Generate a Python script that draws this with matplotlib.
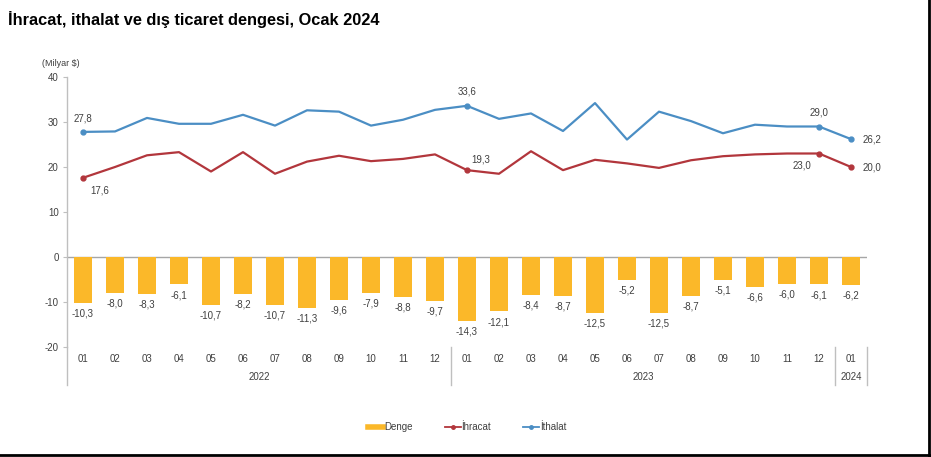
import matplotlib
matplotlib.use("Agg")
import matplotlib.pyplot as plt
from matplotlib.lines import Line2D
import numpy as np

plt.rcParams['font.family'] = ['Liberation Sans', 'DejaVu Sans']
plt.rcParams['axes.unicode_minus'] = False

# data (Milyar $)
months = ['01', '02', '03', '04', '05', '06', '07', '08', '09', '10', '11', '12'] * 2 + ['01']
years = ['2022', '2023', '2024']
denge = [-10.3, -8.0, -8.3, -6.1, -10.7, -8.2, -10.7, -11.3, -9.6, -7.9, -8.8, -9.7,
         -14.3, -12.1, -8.4, -8.7, -12.5, -5.2, -12.5, -8.7, -5.1, -6.6, -6.0, -6.1,
         -6.2]
ihracat = [17.6, 20.0, 22.6, 23.3, 19.0, 23.3, 18.5, 21.2, 22.5, 21.3, 21.8, 22.8,
           19.3, 18.5, 23.5, 19.3, 21.6, 20.8, 19.8, 21.5, 22.4, 22.8, 23.0, 23.0,
           20.0]
ithalat = [27.8, 27.9, 30.9, 29.6, 29.6, 31.6, 29.2, 32.6, 32.3, 29.2, 30.5, 32.7,
           33.6, 30.7, 31.9, 28.0, 34.2, 26.1, 32.3, 30.2, 27.5, 29.4, 29.0, 29.0,
           26.2]
labeled = [0, 12, 23, 24]

c_bar = '#fbb829'
c_exp = '#b2363c'
c_imp = '#4b8ec4'
c_txt = '#404040'

fig = plt.figure(figsize=(9.31, 4.57), dpi=100)
ax = fig.add_axes([67 / 931, 1 - 347 / 457, 800 / 931, 270 / 457])

x = np.arange(len(denge))
ax.bar(x, denge, width=0.57, color=c_bar, zorder=2)
ax.plot(x, ihracat, color=c_exp, lw=1.6, marker='o', ms=3.5, markevery=labeled, zorder=3)
ax.plot(x, ithalat, color=c_imp, lw=1.6, marker='o', ms=3.5, markevery=labeled, zorder=3)
ax.axhline(0, color='#a6a6a6', lw=1, zorder=1)

def fmt(v):
    return f'{v:.1f}'.replace('.', ',')

for xi, v in zip(x, denge):
    ax.annotate(fmt(v), (xi, v), xytext=(0, -4),
                textcoords='offset points', ha='center', va='top',
                fontsize=7, color=c_txt)

# line labels at selected points
exp_off = {0: (12, -9), 12: (10, 8), 23: (-12, -9), 24: (15, 0)}
imp_off = {0: (0, 10), 12: (0, 10), 23: (0, 10), 24: (15, 0)}
for i in labeled:
    ax.annotate(fmt(ihracat[i]), (i, ihracat[i]), xytext=exp_off[i],
                textcoords='offset points', ha='center', va='center',
                fontsize=7, color=c_txt)
    ax.annotate(fmt(ithalat[i]), (i, ithalat[i]), xytext=imp_off[i],
                textcoords='offset points', ha='center', va='center',
                fontsize=7, color=c_txt)

ax.set_xlim(-0.5, len(denge) - 0.5)
ax.set_ylim(-20, 40)
ax.set_yticks([-20, -10, 0, 10, 20, 30, 40])
ax.tick_params(axis='y', labelsize=7, colors='#bfbfbf', labelcolor=c_txt,
               length=3, width=0.8, pad=3)
ax.set_xticks([])
for s in ['top', 'right', 'bottom']:
    ax.spines[s].set_visible(False)
ax.spines['left'].set_color('#bfbfbf')
ax.spines['left'].set_linewidth(1)

# category axis below the plot
tr = ax.get_xaxis_transform()
ax.add_line(Line2D([-0.5, -0.5], [0, -0.14], transform=tr, color='#bfbfbf',
                   lw=1, clip_on=False))
for sx in [11.5, 23.5, 24.5]:
    ax.add_line(Line2D([sx, sx], [0, -0.14], transform=tr, color='#bfbfbf',
                       lw=1, clip_on=False))
for xi, m in zip(x, months):
    ax.text(xi, -0.045, m, transform=tr, ha='center', va='center',
            fontsize=7, color=c_txt)
for xc, y in zip([5.5, 17.5, 24], years):
    ax.text(xc, -0.11, y, transform=tr, ha='center', va='center',
            fontsize=7, color=c_txt)

fig.text(42 / 931, 1 - 64 / 457, '(Milyar $)', fontsize=6.5, color=c_txt,
         va='center', ha='left')
fig.text(8 / 931, 1 - 20 / 457, 'İhracat, ithalat ve dış ticaret dengesi, Ocak 2024',
         fontsize=11.8, fontweight='bold', color='black', va='center', ha='left')

handles = [Line2D([], [], color=c_bar, lw=4),
           Line2D([], [], color=c_exp, lw=1.3, marker='o', ms=2.5),
           Line2D([], [], color=c_imp, lw=1.3, marker='o', ms=2.5)]
fig.legend(handles, ['Denge', 'İhracat', 'İthalat'], loc='center',
           bbox_to_anchor=(467 / 931, 1 - 427 / 457), ncol=3, frameon=False,
           fontsize=7, handlelength=1.6, handletextpad=0.1, columnspacing=3.3,
           labelcolor=c_txt)

# frame on right and bottom edges
fig.add_artist(Line2D([929 / 931, 929 / 931], [0, 1], transform=fig.transFigure,
                      color='black', lw=2))
fig.add_artist(Line2D([0, 1], [2 / 457, 2 / 457], transform=fig.transFigure,
                      color='black', lw=2))

fig.savefig('out.png', dpi=100)
